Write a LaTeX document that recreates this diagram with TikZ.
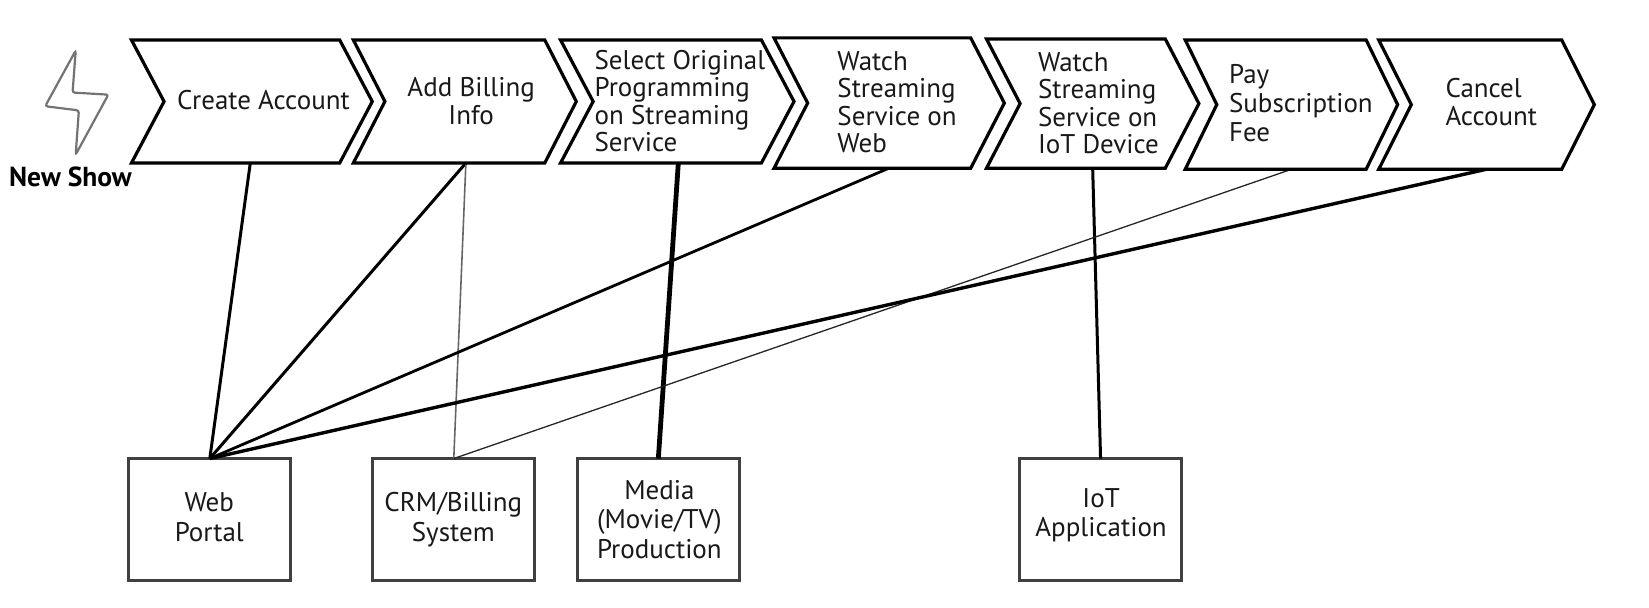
\documentclass[tikz,border=0pt]{standalone}
\usepackage{fontspec}
\setmainfont{PT Sans}
\usetikzlibrary{calc}
\tikzset{
  chevshape/.style={minimum height=#1,inner sep=0pt,outer sep=0pt},
  chevline/.style={draw=black,line width=3.2pt,line join=miter,fill=white},
  lab/.style={font=\fontsize{27}{27.5}\selectfont,inner sep=0pt,align=left,text=black!90},
  labwide/.style={lab,font=\fontsize{27}{29}\selectfont},
  labc/.style={lab,align=center},
  boxlab/.style={lab,align=center,font=\fontsize{27}{29.5}\selectfont},
  sysbox/.style={draw=black!75,line width=3.2pt,fill=white,minimum width=162pt,minimum height=122pt,inner sep=0pt,outer sep=0pt},
  link/.style={draw=black,line width=#1},
  thinlink/.style={draw=black!60,line width=1.6pt},
  hair/.style={draw=black!85,line width=1.3pt},
}
% name, left x, tip x, top y, bottom y, depth (in reference units)
\newcommand{\chevron}[6]{%
  \path let \n1={(#2+#3)/2}, \n2={(#4+#5)/2} in
    node[chevshape=1pt,minimum width=1pt] (#1) at (\n1,\n2) {};
  \draw[chevline] (#2,#4) -- ({#3-#6},#4) -- (#3,{(#4+#5)/2}) -- ({#3-#6},#5)
    -- (#2,#5) -- ({#2+#6},{(#4+#5)/2}) -- cycle;
}
\begin{document}
\begin{tikzpicture}[x=1.0517pt,y=-1.0517pt]
\useasboundingbox (0,0) rectangle (1568,578);
% connector ends on the chevrons' lower edges
\coordinate (c1b) at (238,155);
\coordinate (c2b) at (443,155);
\coordinate (c3b) at (645,155);
\coordinate (c4b) at (845,160);
\coordinate (c5b) at (1039,160);
\coordinate (c6b) at (1228,161);
\coordinate (c7b) at (1413,161);
\node[sysbox] (web) at (199.5,494) {};
\node[sysbox] (crm) at (431.5,494) {};
\node[sysbox] (media) at (626,494) {};
\node[sysbox] (iot) at (1046.5,494) {};
\node[boxlab] (webt) at (199,492) {Web\\Portal};
\node[boxlab] (crmt) at (431,494) {CRM/Billing\\System};
\node[boxlab] (mediat) at (627,494) {Media\\(Movie/TV)\\Production};
\node[boxlab] (iott) at (1047,490) {IoT\\Application};
\draw[link=3pt] (c1b) -- (web.north);
\draw[link=3pt] (c2b) -- (web.north);
\draw[thinlink] (c2b) -- (crm.north);
\draw[link=4.8pt] (c3b) -- (media.north);
\draw[link=2.8pt] (c4b) -- (web.north);
\draw[link=3pt] (c5b) -- (iot.north);
\draw[hair] (c6b) -- (crm.north);
\draw[link=3.4pt] (c7b) -- (web.north);
% chevrons
\chevron{c1}{125}{354}{38}{155}{31}
\chevron{c2}{336}{548}{38}{155}{30}
\chevron{c3}{533}{755}{38}{155}{31}
\chevron{c4}{736}{955}{36}{160}{32}
\chevron{c5}{938}{1140}{37}{160}{32}
\chevron{c6}{1127}{1329}{38}{161}{30}
\chevron{c7}{1311}{1516}{38}{161}{31}
\node[labc] (t1) at (250.5,95) {Create Account};
\node[labc] (t2) at (448,96) {Add Billing\\Info};
\node[lab] (t3) at (646.5,96) {Select Original\\Programming\\on Streaming\\Service};
\node[lab] (t4) at (853,97) {Watch\\Streaming\\Service on\\Web};
\node[lab] (t5) at (1044.5,98) {Watch\\Streaming\\Service on\\IoT Device};
\node[labwide] (t6) at (1237,98.5) {Pay\\Subscription\\Fee};
\node[lab] (t7) at (1418,97) {Cancel\\Account};
% trigger
\draw[draw=black!55,line width=2.2pt,rounded corners=2.5pt] (72,48) -- (69,88) -- (103,90) -- (72,147) -- (75,105) -- (43,101) -- cycle;
\node[font=\fontsize{27.5}{29}\selectfont\bfseries,inner sep=0pt] (show) at (67,168) {New Show};
\end{tikzpicture}
\end{document}
